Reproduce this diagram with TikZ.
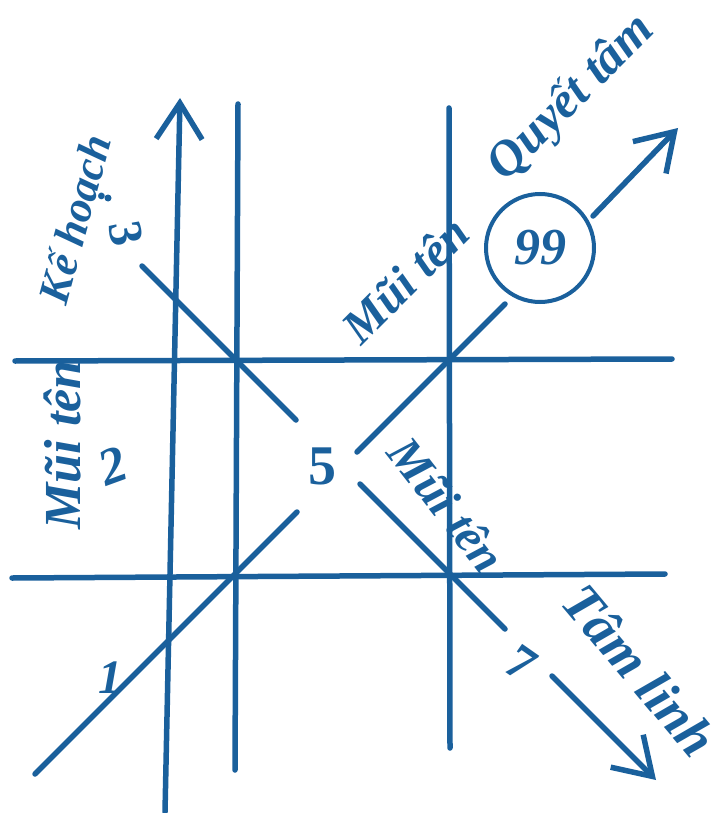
\documentclass[tikz,border=0pt]{standalone}
\usepackage{fontspec}
\setmainfont{Liberation Serif}
\usetikzlibrary{arrows.meta}
\definecolor{ink}{RGB}{26,96,156}
\begin{document}
\begin{tikzpicture}[x=1pt,y=-1pt, line width=5.5pt, draw=ink, line cap=round,
  every node/.style={text=ink, inner sep=0pt},
  lbl/.style={font=\bfseries\itshape\fontsize{#1}{#1}\selectfont},
  num/.style={font=\bfseries\fontsize{#1}{#1}\selectfont},
  arr/.style={-{Straight Barb[length=36pt,width=46pt]}}]
\useasboundingbox (0,0) rectangle (725,813);
% endpoints
\coordinate (v1b) at (165,812); \coordinate (v1t) at (180,98);
\coordinate (v2t) at (238,104); \coordinate (v2b) at (235,770);
\coordinate (v3t) at (449,108); \coordinate (v3b) at (450,748);
\coordinate (h1l) at (15,361);  \coordinate (h1r) at (672,359);
\coordinate (h2l) at (12,578);  \coordinate (h2r) at (665,574);
\coordinate (ne0) at (35,774);  \coordinate (ne1) at (297,512);
\coordinate (ne2) at (357,452); \coordinate (ne3) at (505,304);
\coordinate (ne4) at (593,216); \coordinate (ne5) at (678,128);
\coordinate (se0) at (142,266); \coordinate (se1) at (296,420);
\coordinate (se2) at (360,484); \coordinate (se3) at (505,629);
\coordinate (se4) at (552,676); \coordinate (se5) at (656,780);
% lines
\draw[arr] (v1b) -- (v1t);
\draw (v2t) -- (v2b);
\draw (v3t) -- (v3b);
\draw (h1l) -- (h1r);
\draw (h2l) -- (h2r);
\draw (ne0) -- (ne1);
\draw (ne2) -- (ne3);
\draw[arr] (ne4) -- (ne5);
\draw (se0) -- (se1);
\draw (se2) -- (se3);
\draw[arr] (se4) -- (se5);
% circle
\node[circle, draw=ink, line width=4pt, minimum size=108pt, num=52] (c99) at (540,248) {\itshape 99};
% labels
\node[lbl=44, rotate=75] (kh) at (78,220) {Kế hoạch};
\node[num=48, rotate=-80] (n3) at (126,234) {3};
\fill[ink] (108,198) circle (3.5);
\node[lbl=52, rotate=90] (mt2) at (62,445) {Mũi tên};
\node[num=52, rotate=20] (n2) at (113,466) {\itshape 2};
\node[lbl=48, rotate=45] (mtq) at (405,280) {Mũi tên};
\node[lbl=50, rotate=45] (qt) at (572,98) {Quyết tâm};
\node[num=56] (n5) at (322,466) {5};
\node[lbl=48, rotate=-52] (mt7) at (447,505) {Mũi tên};
\node[lbl=54, rotate=-50] (tl) at (640,670) {Tâm linh};
\node[num=50, rotate=-35] (n7) at (521,663) {7};
\node[num=48] (n1) at (110,678) {\itshape 1};
\end{tikzpicture}
\end{document}
